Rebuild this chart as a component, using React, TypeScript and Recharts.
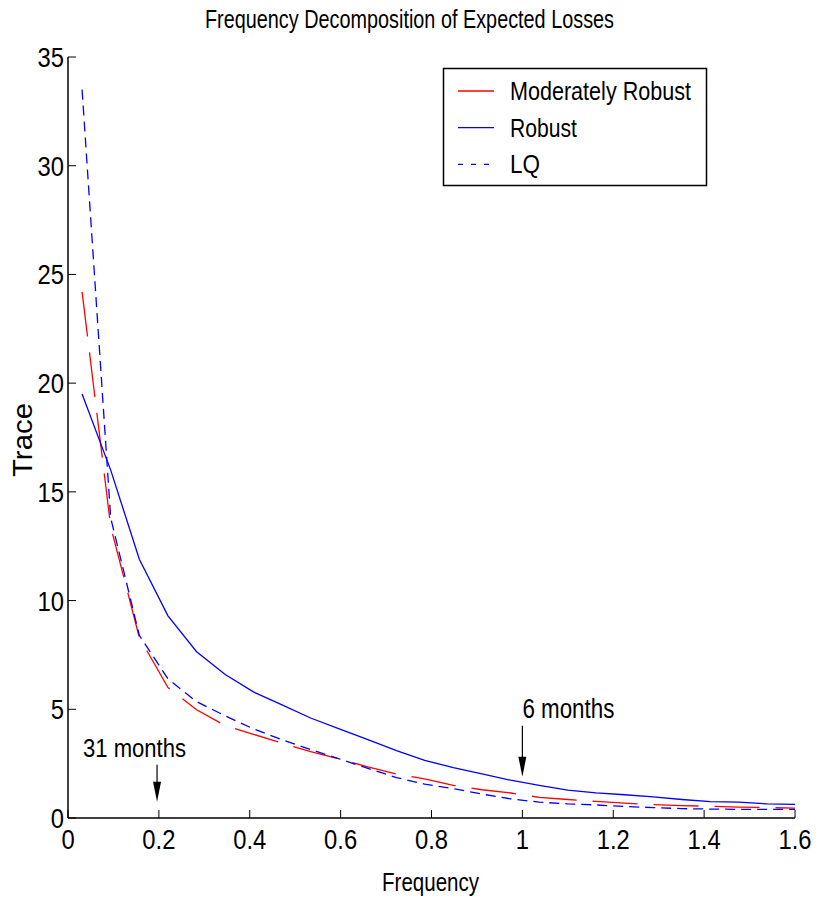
import React from 'react';
import { LineChart, Line, XAxis, YAxis, ReferenceDot } from 'recharts';

// frequency grid
const freq = [0.031, 0.094, 0.157, 0.22, 0.283, 0.346, 0.408, 0.471, 0.534, 0.597, 0.66, 0.723, 0.785, 0.848, 0.911, 0.974, 1.037, 1.1, 1.162, 1.225, 1.288, 1.351, 1.414, 1.476, 1.539, 1.6];

const moderatelyRobust = [24.2, 13.4, 8.3, 6.0, 4.98, 4.25, 3.85, 3.44, 3.05, 2.72, 2.35, 2.02, 1.8, 1.5, 1.3, 1.15, 0.95, 0.85, 0.76, 0.68, 0.62, 0.57, 0.54, 0.5, 0.48, 0.45];
const robust = [19.5, 16.0, 11.9, 9.3, 7.65, 6.6, 5.8, 5.2, 4.6, 4.1, 3.6, 3.1, 2.65, 2.32, 2.03, 1.74, 1.5, 1.28, 1.16, 1.07, 0.97, 0.85, 0.75, 0.73, 0.65, 0.63];
const lq = [33.5, 13.8, 8.4, 6.4, 5.35, 4.7, 4.1, 3.6, 3.15, 2.72, 2.28, 1.86, 1.56, 1.35, 1.1, 0.88, 0.73, 0.65, 0.6, 0.53, 0.48, 0.43, 0.41, 0.4, 0.4, 0.4];

const xTicks = [0, 0.2, 0.4, 0.6, 0.8, 1, 1.2, 1.4, 1.6];
const yTicks = [0, 5, 10, 15, 20, 25, 30, 35];

// arrow annotations: [label, frequency, trace at arrow tip]
const notes: [string, number, number][] = [
  ['31 months', 0.196, 0.75],
  ['6 months', 1.0, 1.9],
];

const data = freq.map((f, i) => ({
  f,
  mod: moderatelyRobust[i],
  rob: robust[i],
  lq: lq[i],
}));

const FONT = '"Liberation Sans", Arial, Helvetica, sans-serif';

const XTick = (props: any) => {
  const { x, y, payload } = props;
  return (
    <text
      transform={`translate(${x} ${y + 21}) scale(0.85 1)`}
      textAnchor="middle"
      fontFamily={FONT}
      fontSize={28}
      fill="#000"
    >
      {String(payload.value)}
    </text>
  );
};

const YTick = (props: any) => {
  const { x, y, payload } = props;
  return (
    <text
      transform={`translate(${x} ${y + 10}) scale(0.85 1)`}
      textAnchor="end"
      fontFamily={FONT}
      fontSize={28}
      fill="#000"
    >
      {String(payload.value)}
    </text>
  );
};

const arrowShape = (label: string) => (props: any) => {
  const { cx, cy } = props;
  const big = label.startsWith('6');
  const lineTop = big ? cy - 51 : cy - 37;
  return (
    <g>
      <line x1={cx} y1={lineTop} x2={cx} y2={cy - 18} stroke="#000" strokeWidth={1.2} />
      <polygon points={`${cx - 4},${cy - 20} ${cx + 4},${cy - 20} ${cx},${cy}`} fill="#000" />
      <text
        x={big ? cx : cx - 74}
        y={big ? cy - 59 : cy - 45}
        fontFamily={FONT}
        fontSize={big ? 27 : 26}
        textLength={big ? 92 : 103}
        lengthAdjust="spacingAndGlyphs"
        fill="#000"
      >
        {label}
      </text>
    </g>
  );
};

const legendItems = [
  { name: 'Moderately Robust', color: '#ff0000', dash: undefined, len: 181 },
  { name: 'Robust', color: '#0000ff', dash: undefined, len: 67 },
  { name: 'LQ', color: '#0000ff', dash: '5 8', len: 30 },
];

export default function App() {
  return (
    <div style={{ position: 'absolute', left: 0, top: 0, width: 820, height: 903, background: '#fff' }}>
      <LineChart
        width={820}
        height={903}
        data={data}
        margin={{ top: 57, right: 25, left: 0, bottom: 0 }}
      >
        <XAxis
          dataKey="f"
          type="number"
          domain={[0, 1.6]}
          ticks={xTicks}
          allowDataOverflow
          height={85}
          tickSize={-8}
          tickMargin={18}
          tick={<XTick />}
          axisLine={{ stroke: '#000', strokeWidth: 1.5 }}
          tickLine={{ stroke: '#000' }}
        />
        <XAxis
          xAxisId="top"
          orientation="top"
          type="number"
          domain={[0, 1.6]}
          ticks={xTicks}
          allowDataOverflow
          height={0}
          tickSize={-8}
          tick={false}
          axisLine={{ stroke: '#000', strokeWidth: 1.5 }}
          tickLine={{ stroke: '#000' }}
        />
        <YAxis
          type="number"
          domain={[0, 35]}
          ticks={yTicks}
          allowDataOverflow
          width={68}
          tickSize={-8}
          tickMargin={12}
          tick={<YTick />}
          axisLine={{ stroke: '#000', strokeWidth: 1.5 }}
          tickLine={{ stroke: '#000' }}
        />
        <YAxis
          yAxisId="right"
          orientation="right"
          type="number"
          domain={[0, 35]}
          ticks={yTicks}
          allowDataOverflow
          width={0}
          tickSize={-8}
          tick={false}
          axisLine={{ stroke: '#000', strokeWidth: 1.5 }}
          tickLine={{ stroke: '#000' }}
        />
        <Line
          type="linear"
          dataKey="mod"
          stroke="#ff0000"
          strokeWidth={1.3}
          strokeDasharray="45 16"
          dot={false}
          isAnimationActive={false}
        />
        <Line
          type="linear"
          dataKey="rob"
          stroke="#0000ff"
          strokeWidth={1.3}
          dot={false}
          isAnimationActive={false}
        />
        <Line
          type="linear"
          dataKey="lq"
          stroke="#0000ff"
          strokeWidth={1.3}
          strokeDasharray="10 6"
          dot={false}
          isAnimationActive={false}
        />
        {notes.map(([label, x, y]) => (
          <ReferenceDot key={label} x={x} y={y} r={0} shape={arrowShape(label)} />
        ))}
      </LineChart>

      <svg
        width={820}
        height={903}
        style={{ position: 'absolute', left: 0, top: 0, pointerEvents: 'none' }}
      >
        <text x={205} y={28} fontFamily={FONT} fontSize={25} textLength={409} lengthAdjust="spacingAndGlyphs" fill="#000">
          Frequency Decomposition of Expected Losses
        </text>
        <text x={382} y={891} fontFamily={FONT} fontSize={26} textLength={97} lengthAdjust="spacingAndGlyphs" fill="#000">
          Frequency
        </text>
        <text
          transform="translate(32 477) rotate(-90)"
          fontFamily={FONT}
          fontSize={28}
          textLength={74}
          lengthAdjust="spacingAndGlyphs"
          fill="#000"
        >
          Trace
        </text>

        <rect x={443.5} y={68.5} width={263} height={117} fill="#fff" stroke="#000" strokeWidth={1.5} />
        {legendItems.map((it, i) => {
          const cy = 91 + i * 36.7;
          return (
            <g key={it.name}>
              <line x1={458} y1={cy} x2={494} y2={cy} stroke={it.color} strokeWidth={1.3} strokeDasharray={it.dash} />
              <text
                x={510}
                y={cy + 9}
                fontFamily={FONT}
                fontSize={26}
                textLength={it.len}
                lengthAdjust="spacingAndGlyphs"
                fill="#000"
              >
                {it.name}
              </text>
            </g>
          );
        })}
      </svg>
    </div>
  );
}
